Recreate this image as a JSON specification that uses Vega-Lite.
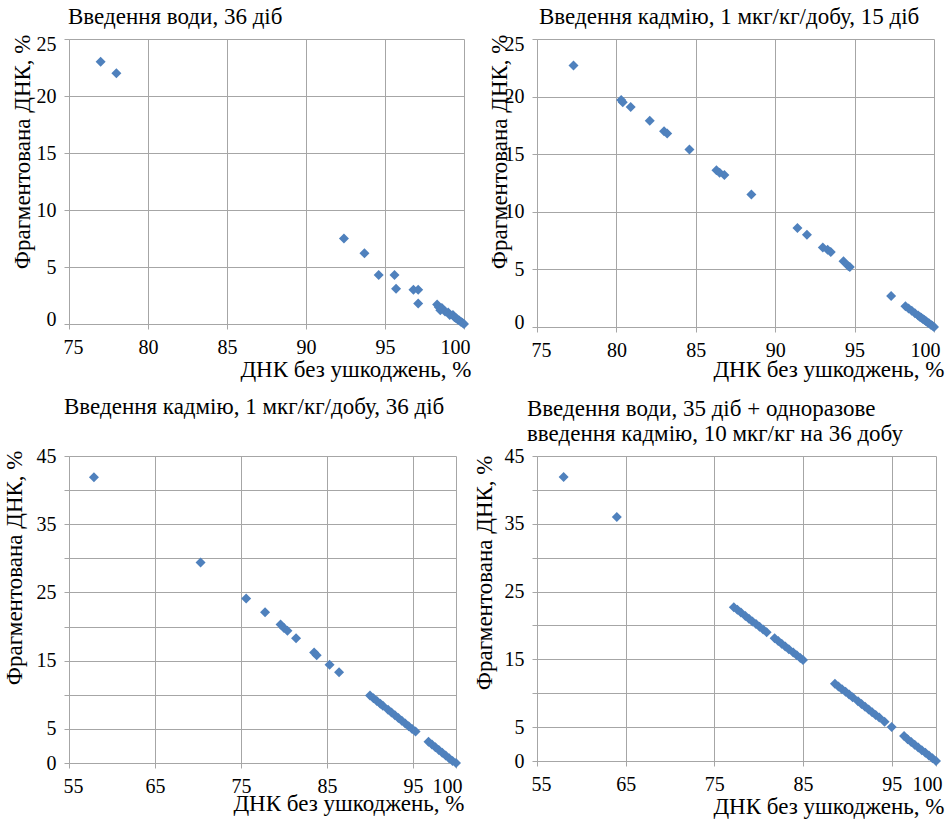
{
  "$schema": "https://vega.github.io/schema/vega-lite/v6.json",
  "autosize": {"type": "pad"},
  "padding": {"left": 3, "top": 6, "right": 2, "bottom": 2},
  "background": "white",
  "config": {
    "view": {"stroke": null},
    "axis": {
      "grid": true,
      "gridColor": "#a6a6a6",
      "domainColor": "#a6a6a6",
      "tickColor": "#a6a6a6",
      "tickSize": 5,
      "labelFont": "Liberation Serif, Times New Roman, serif",
      "labelFontSize": 20,
      "labelColor": "black",
      "labelPadding": 8,
      "labelFlush": false,
      "labelOverlap": false,
      "titleFont": "Liberation Serif, Times New Roman, serif",
      "titleFontSize": 23,
      "titleFontWeight": "normal",
      "titleColor": "black"
    },
    "axisX": {"labelFlush": true, "labelFlushOffset": 6},
    "title": {
      "font": "Liberation Serif, Times New Roman, serif",
      "fontSize": 23,
      "fontWeight": "normal",
      "color": "black",
      "anchor": "start",
      "frame": "group",
      "baseline": "bottom"
    },
    "point": {"shape": "diamond", "filled": true, "size": 100, "color": "#4F81BD", "opacity": 1}
  },
  "datasets": {
    "p1": [
      {"intact": 77.0, "fragmented": 23.0}, {"intact": 78.0, "fragmented": 22.0},
      {"intact": 92.4, "fragmented": 7.5}, {"intact": 93.7, "fragmented": 6.2},
      {"intact": 94.6, "fragmented": 4.3}, {"intact": 95.6, "fragmented": 4.3},
      {"intact": 95.7, "fragmented": 3.1}, {"intact": 96.8, "fragmented": 3.0},
      {"intact": 97.1, "fragmented": 3.0}, {"intact": 97.1, "fragmented": 1.8},
      {"intact": 98.3, "fragmented": 1.7}, {"intact": 98.4, "fragmented": 1.5},
      {"intact": 98.5, "fragmented": 1.2}, {"intact": 98.6, "fragmented": 1.4},
      {"intact": 98.8, "fragmented": 1.1}, {"intact": 99.0, "fragmented": 1.0},
      {"intact": 99.1, "fragmented": 0.8}, {"intact": 99.3, "fragmented": 0.8},
      {"intact": 99.4, "fragmented": 0.6}, {"intact": 99.5, "fragmented": 0.5},
      {"intact": 99.6, "fragmented": 0.4}, {"intact": 99.7, "fragmented": 0.3},
      {"intact": 99.8, "fragmented": 0.2}, {"intact": 99.9, "fragmented": 0.1},
      {"intact": 100.0, "fragmented": 0.0}
    ],
    "p2": [
      {"intact": 77.3, "fragmented": 22.7}, {"intact": 80.3, "fragmented": 19.7},
      {"intact": 80.4, "fragmented": 19.5}, {"intact": 80.9, "fragmented": 19.1},
      {"intact": 82.1, "fragmented": 17.9}, {"intact": 83.0, "fragmented": 17.0},
      {"intact": 83.2, "fragmented": 16.8}, {"intact": 84.6, "fragmented": 15.4},
      {"intact": 86.3, "fragmented": 13.6}, {"intact": 86.5, "fragmented": 13.4},
      {"intact": 86.8, "fragmented": 13.2}, {"intact": 88.5, "fragmented": 11.5},
      {"intact": 91.4, "fragmented": 8.6}, {"intact": 92.0, "fragmented": 8.0},
      {"intact": 93.0, "fragmented": 6.9}, {"intact": 93.3, "fragmented": 6.7},
      {"intact": 93.5, "fragmented": 6.5}, {"intact": 94.3, "fragmented": 5.7},
      {"intact": 94.6, "fragmented": 5.3}, {"intact": 94.7, "fragmented": 5.2},
      {"intact": 97.3, "fragmented": 2.7}, {"intact": 98.2, "fragmented": 1.8},
      {"intact": 98.4, "fragmented": 1.6}, {"intact": 98.6, "fragmented": 1.4},
      {"intact": 98.8, "fragmented": 1.2}, {"intact": 99.0, "fragmented": 1.0},
      {"intact": 99.1, "fragmented": 0.9}, {"intact": 99.2, "fragmented": 0.8},
      {"intact": 99.3, "fragmented": 0.7}, {"intact": 99.4, "fragmented": 0.6},
      {"intact": 99.5, "fragmented": 0.5}, {"intact": 99.6, "fragmented": 0.4},
      {"intact": 99.7, "fragmented": 0.3}, {"intact": 99.8, "fragmented": 0.2},
      {"intact": 99.9, "fragmented": 0.1}, {"intact": 100.0, "fragmented": 0.0}
    ],
    "p3": [
      {"intact": 57.9, "fragmented": 41.9}, {"intact": 70.3, "fragmented": 29.4},
      {"intact": 75.6, "fragmented": 24.1}, {"intact": 77.8, "fragmented": 22.1},
      {"intact": 79.6, "fragmented": 20.3}, {"intact": 80.0, "fragmented": 19.8},
      {"intact": 80.4, "fragmented": 19.4}, {"intact": 81.4, "fragmented": 18.3},
      {"intact": 83.5, "fragmented": 16.2}, {"intact": 83.8, "fragmented": 15.8},
      {"intact": 85.3, "fragmented": 14.4}, {"intact": 86.4, "fragmented": 13.3},
      {"intact": 90.0, "fragmented": 9.9}, {"intact": 90.4, "fragmented": 9.5},
      {"intact": 90.8, "fragmented": 9.1}, {"intact": 91.2, "fragmented": 8.7},
      {"intact": 91.5, "fragmented": 8.4}, {"intact": 92.1, "fragmented": 7.8},
      {"intact": 92.5, "fragmented": 7.4}, {"intact": 92.9, "fragmented": 7.0},
      {"intact": 93.3, "fragmented": 6.6}, {"intact": 93.7, "fragmented": 6.2},
      {"intact": 94.1, "fragmented": 5.8}, {"intact": 94.5, "fragmented": 5.4},
      {"intact": 94.9, "fragmented": 5.0}, {"intact": 95.3, "fragmented": 4.6},
      {"intact": 96.8, "fragmented": 3.1}, {"intact": 97.2, "fragmented": 2.7},
      {"intact": 97.6, "fragmented": 2.3}, {"intact": 98.0, "fragmented": 1.9},
      {"intact": 98.4, "fragmented": 1.5}, {"intact": 98.8, "fragmented": 1.1},
      {"intact": 99.2, "fragmented": 0.7}, {"intact": 99.6, "fragmented": 0.3},
      {"intact": 100.0, "fragmented": 0.0}
    ],
    "p4": [
      {"intact": 58.0, "fragmented": 41.9}, {"intact": 64.0, "fragmented": 36.0},
      {"intact": 77.2, "fragmented": 22.7}, {"intact": 77.6, "fragmented": 22.3},
      {"intact": 78.0, "fragmented": 21.9}, {"intact": 78.5, "fragmented": 21.4},
      {"intact": 78.9, "fragmented": 21.0}, {"intact": 79.3, "fragmented": 20.6},
      {"intact": 79.7, "fragmented": 20.2}, {"intact": 80.1, "fragmented": 19.8},
      {"intact": 80.5, "fragmented": 19.4}, {"intact": 80.9, "fragmented": 19.0},
      {"intact": 81.8, "fragmented": 18.1}, {"intact": 82.2, "fragmented": 17.7},
      {"intact": 82.6, "fragmented": 17.3}, {"intact": 83.0, "fragmented": 16.9},
      {"intact": 83.4, "fragmented": 16.5}, {"intact": 83.9, "fragmented": 16.0},
      {"intact": 84.3, "fragmented": 15.6}, {"intact": 84.7, "fragmented": 15.2},
      {"intact": 85.0, "fragmented": 14.9}, {"intact": 88.6, "fragmented": 11.4},
      {"intact": 89.0, "fragmented": 11.0}, {"intact": 89.4, "fragmented": 10.6},
      {"intact": 89.8, "fragmented": 10.2}, {"intact": 90.2, "fragmented": 9.8},
      {"intact": 90.6, "fragmented": 9.4}, {"intact": 91.2, "fragmented": 8.8},
      {"intact": 91.6, "fragmented": 8.4}, {"intact": 92.0, "fragmented": 8.0},
      {"intact": 92.4, "fragmented": 7.6}, {"intact": 92.8, "fragmented": 7.2},
      {"intact": 93.2, "fragmented": 6.8}, {"intact": 93.6, "fragmented": 6.4},
      {"intact": 94.2, "fragmented": 5.8}, {"intact": 95.0, "fragmented": 5.0},
      {"intact": 96.4, "fragmented": 3.7}, {"intact": 96.8, "fragmented": 3.2},
      {"intact": 97.2, "fragmented": 2.8}, {"intact": 97.6, "fragmented": 2.4},
      {"intact": 98.0, "fragmented": 2.0}, {"intact": 98.4, "fragmented": 1.6},
      {"intact": 98.8, "fragmented": 1.2}, {"intact": 99.2, "fragmented": 0.8},
      {"intact": 99.6, "fragmented": 0.4}, {"intact": 100.0, "fragmented": 0.0}
    ]
  },
  "bounds": "flush",
  "columns": 2,
  "spacing": {"column": 73, "row": 129},
  "concat": [
    {
      "width": 395, "height": 285,
      "title": {"text": "Введення води, 36 діб", "offset": 5, "dx": -1},
      "data": {"name": "p1"},
      "mark": {"type": "point"},
      "encoding": {
        "x": {"field": "intact", "type": "quantitative",
              "scale": {"domain": [75, 100], "nice": false, "zero": false},
              "axis": {"values": [75, 80, 85, 90, 95, 100], "title": "ДНК без ушкоджень, %",
                       "titleX": 402, "titleY": 52, "titleAlign": "right", "titleBaseline": "alphabetic"}},
        "y": {"field": "fragmented", "type": "quantitative",
              "scale": {"domain": [0, 25], "nice": false},
              "axis": {"values": [0, 5, 10, 15, 20, 25], "labelFlush": true, "labelFlushOffset": 5,
                       "title": "Фрагментована ДНК, %",
                       "titleX": -40, "titleY": -5, "titleAngle": 270, "titleAlign": "right", "titleBaseline": "alphabetic"}}
      }
    },
    {
      "width": 397, "height": 288,
      "title": {"text": "Введення кадмію, 1 мкг/кг/добу, 15 діб", "offset": 5, "dx": 2},
      "data": {"name": "p2"},
      "mark": {"type": "point"},
      "encoding": {
        "x": {"field": "intact", "type": "quantitative",
              "scale": {"domain": [75, 100], "nice": false, "zero": false},
              "axis": {"values": [75, 80, 85, 90, 95, 100], "title": "ДНК без ушкоджень, %",
                       "titleX": 407, "titleY": 49, "titleAlign": "right", "titleBaseline": "alphabetic"}},
        "y": {"field": "fragmented", "type": "quantitative",
              "scale": {"domain": [0, 25], "nice": false},
              "axis": {"values": [0, 5, 10, 15, 20, 25], "labelFlush": true, "labelFlushOffset": 5,
                       "title": "Фрагментована ДНК, %",
                       "titleX": -31, "titleY": -5, "titleAngle": 270, "titleAlign": "right", "titleBaseline": "alphabetic"}}
      }
    },
    {
      "width": 387, "height": 307,
      "title": {"text": "Введення кадмію, 1 мкг/кг/добу, 36 діб", "offset": 27, "dx": -5},
      "data": {"name": "p3"},
      "mark": {"type": "point"},
      "encoding": {
        "x": {"field": "intact", "type": "quantitative",
              "scale": {"domain": [55, 100], "nice": false, "zero": false},
              "axis": {"values": [55, 65, 75, 85, 95, 100], "title": "ДНК без ушкоджень, %",
                       "titleX": 395, "titleY": 47, "titleAlign": "right", "titleBaseline": "alphabetic"}},
        "y": {"field": "fragmented", "type": "quantitative",
              "scale": {"domain": [0, 45], "nice": false},
              "axis": {"values": [0, 5, 10, 15, 20, 25, 30, 35, 40, 45],
                       "labelExpr": "datum.value == 0 || datum.value % 10 == 5 ? datum.label : ''",
                       "title": "Фрагментована ДНК, %",
                       "titleX": -48, "titleY": -6, "titleAngle": 270, "titleAlign": "right", "titleBaseline": "alphabetic"}}
      }
    },
    {
      "width": 399, "height": 305,
      "title": {"text": ["Введення води, 35 діб + одноразове", "введення кадмію, 10 мкг/кг на 36 добу"], "offset": 0, "dx": -10, "lineHeight": 25},
      "data": {"name": "p4"},
      "mark": {"type": "point"},
      "encoding": {
        "x": {"field": "intact", "type": "quantitative",
              "scale": {"domain": [55, 100], "nice": false, "zero": false},
              "axis": {"values": [55, 65, 75, 85, 95, 100], "title": "ДНК без ушкоджень, %",
                       "titleX": 407, "titleY": 52, "titleAlign": "right", "titleBaseline": "alphabetic"}},
        "y": {"field": "fragmented", "type": "quantitative",
              "scale": {"domain": [0, 45], "nice": false},
              "axis": {"values": [0, 5, 10, 15, 20, 25, 30, 35, 40, 45],
                       "labelExpr": "datum.value == 0 || datum.value % 10 == 5 ? datum.label : ''",
                       "title": "Фрагментована ДНК, %",
                       "titleX": -46, "titleY": -1, "titleAngle": 270, "titleAlign": "right", "titleBaseline": "alphabetic"}}
      }
    }
  ]
}
